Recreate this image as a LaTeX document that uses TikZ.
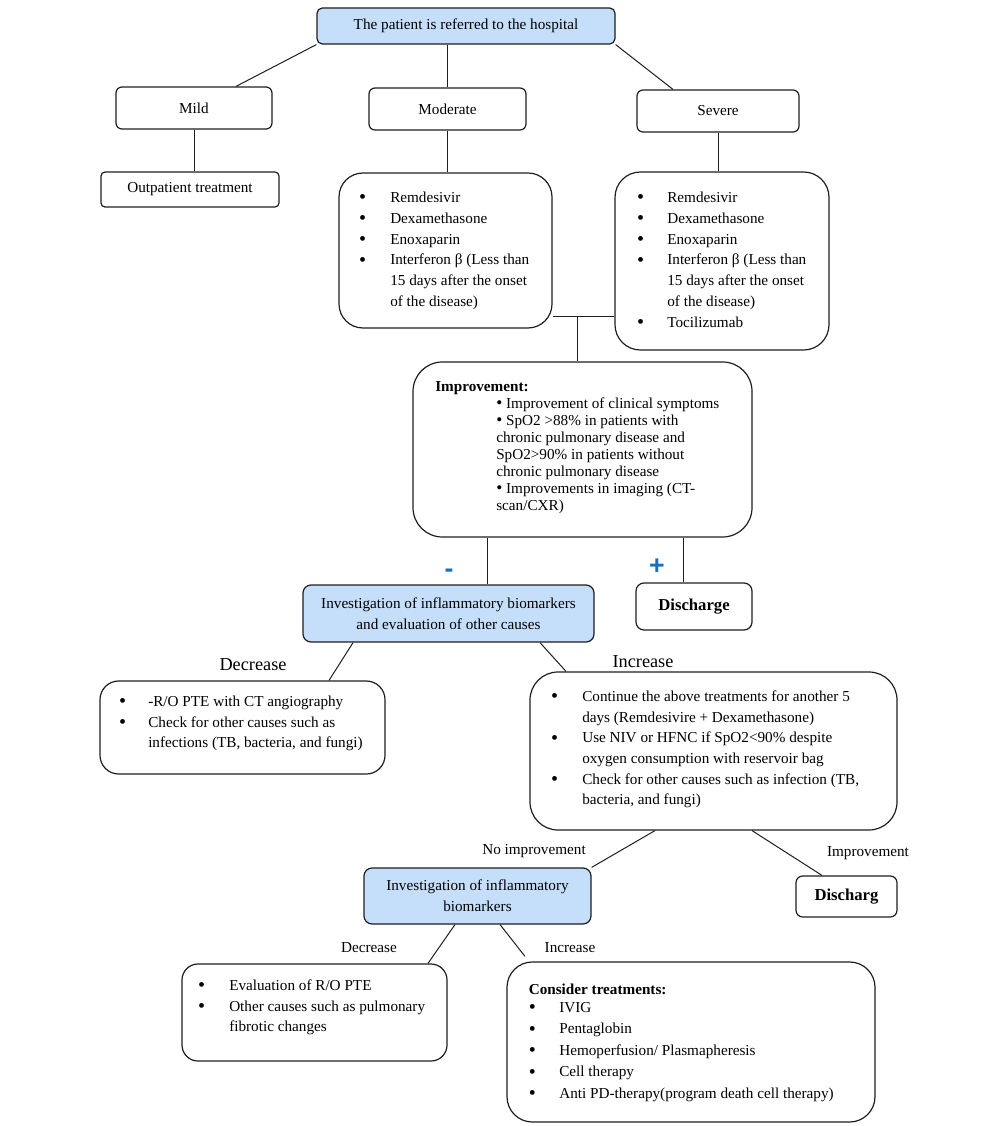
\documentclass[tikz,border=0pt]{standalone}
\usepackage{fontspec}
\setmainfont{Liberation Serif}
\setsansfont{Liberation Sans}
\usetikzlibrary{fit}
\definecolor{boxblue}{RGB}{197,223,250}
\definecolor{signblue}{RGB}{25,110,190}
\definecolor{edgec}{RGB}{30,30,30}
\newcommand\bdot{\raisebox{-0.9pt}{\fontsize{15}{15}\selectfont\textbullet}}
\newcommand\bul[1]{\makebox[#1][l]{\bdot}}
\newcommand\ibdot{\raisebox{-0.3pt}{\fontsize{13}{13}\selectfont\textbullet}}
\begin{document}
\begin{tikzpicture}[x=0.75pt,y=-0.75pt,
  font=\fontsize{11.4}{15.6}\selectfont,
  box/.style={draw=edgec, line width=0.9pt, inner sep=0pt, align=center},
  bluebox/.style={box, fill=boxblue},
  conn/.style={draw=edgec, line width=0.75pt},
  lbl/.style={inner sep=0pt},
  txt/.style={inner sep=0pt, anchor=base west},
  bigbold/.style={font=\bfseries\fontsize{12.5}{15}\selectfont},
  biglbl/.style={lbl, font=\fontsize{13.7}{16}\selectfont},
  sign/.style={lbl, text=signblue, font=\sffamily\bfseries\fontsize{20}{20}\selectfont}]
\useasboundingbox (0,0) rectangle (1000,1126);

% boxes with centred text
\node[bluebox, rounded corners=4pt, minimum width=223.5pt, minimum height=27pt] (top) at (466,26) {The patient is referred to the hospital};
\node[box, rounded corners=4.5pt, minimum width=117pt, minimum height=31.5pt] (mild) at (194,108) {Mild};
\node[box, rounded corners=4.5pt, minimum width=117.75pt, minimum height=31.5pt] (moderate) at (447.5,109) {Moderate};
\node[box, rounded corners=4.5pt, minimum width=121.5pt, minimum height=31.5pt] (severe) at (718,111) {Severe};
\node[box, rounded corners=3pt, minimum width=133.5pt, minimum height=26.25pt] (outp) at (190,189.5) {Outpatient treatment};
\node[bluebox, rounded corners=6pt, minimum width=218.25pt, minimum height=42.75pt] (inv1) at (448.5,613.5) {Investigation of inflammatory biomarkers\\and evaluation of other causes};
\node[box, rounded corners=6pt, minimum width=87pt, minimum height=35.25pt, bigbold] (disc1) at (694,606.5) {Discharge};
\node[bluebox, rounded corners=6pt, minimum width=170.25pt, minimum height=42pt] (inv2) at (477.5,896) {Investigation of inflammatory\\biomarkers};
\node[box, rounded corners=5pt, minimum width=75.75pt, minimum height=30.75pt, bigbold] (disc2) at (846.5,896.5) {Discharg};

% large list boxes
\node[box, rounded corners=18pt, fit={(339,173) (552,328)}] (modlist) {};
\node[box, rounded corners=19pt, fit={(615,172) (829,350)}] (sevlist) {};
\node[box, rounded corners=22pt, fit={(413,362) (752,537)}] (improv) {};
\node[box, rounded corners=14pt, fit={(100,681) (385,774)}] (dec1) {};
\node[box, rounded corners=21pt, fit={(530,672) (897,830)}] (inc1) {};
\node[box, rounded corners=12pt, fit={(182,964) (447,1061)}] (dec2) {};
\node[box, rounded corners=19pt, fit={(507,962) (875,1122)}] (inc2) {};

% box texts
\node[txt] (modtxt) at (358.8,202.5) {\begin{tabular}[t]{@{}l@{}l@{}}
\bul{23.4pt} & Remdesivir\\
\bdot & Dexamethasone\\
\bdot & Enoxaparin\\
\bdot & Interferon β (Less than\\
 & 15 days after the onset\\
 & of the disease)
\end{tabular}};
\node[txt] (sevtxt) at (636.8,202.5) {\begin{tabular}[t]{@{}l@{}l@{}}
\bul{22.7pt} & Remdesivir\\
\bdot & Dexamethasone\\
\bdot & Enoxaparin\\
\bdot & Interferon β (Less than\\
 & 15 days after the onset\\
 & of the disease)\\
\bdot & Tocilizumab
\end{tabular}};
\node[txt] (imptxt) at (435,391.5) {\fontsize{11.4}{12.75}\selectfont\begin{tabular}[t]{@{}l@{}l@{}}
\multicolumn{2}{@{}l@{}}{\textbf{Improvement:}}\\
\makebox[45.75pt][l]{} & \ibdot\ Improvement of clinical symptoms\\
 & \ibdot\ SpO2 >88\% in patients with\\
 & chronic pulmonary disease and\\
 & SpO2>90\% in patients without\\
 & chronic pulmonary disease\\
 & \ibdot\ Improvements in imaging (CT-\\
 & scan/CXR)
\end{tabular}};
\node[txt] (dec1txt) at (118.8,706.5) {\fontsize{11.4}{15.4}\selectfont\begin{tabular}[t]{@{}l@{}l@{}}
\bul{21.9pt} & -R/O PTE with CT angiography\\
\bdot & Check for other causes such as\\
 & infections (TB, bacteria, and fungi)
\end{tabular}};
\node[txt] (inc1txt) at (550.8,701.5) {\fontsize{11.4}{15.5}\selectfont\begin{tabular}[t]{@{}l@{}l@{}}
\bul{23.4pt} & Continue the above treatments for another 5\\
 & days (Remdesivire + Dexamethasone)\\
\bdot & Use NIV or HFNC if SpO2<90\% despite\\
 & oxygen consumption with reservoir bag\\
\bdot & Check for other causes such as infection (TB,\\
 & bacteria, and fungi)
\end{tabular}};
\node[txt] (dec2txt) at (197.8,990.5) {\fontsize{11.4}{15.4}\selectfont\begin{tabular}[t]{@{}l@{}l@{}}
\bul{23.4pt} & Evaluation of R/O PTE\\
\bdot & Other causes such as pulmonary\\
 & fibrotic changes
\end{tabular}};
\node[txt] (inc2txt) at (528.5,994.5) {\fontsize{11.4}{16.1}\selectfont\begin{tabular}[t]{@{}l@{}l@{}}
\multicolumn{2}{@{}l@{}}{\textbf{Consider treatments:}}\\[-2.6pt]
\bul{22.9pt} & IVIG\\
\bdot & Pentaglobin\\
\bdot & Hemoperfusion/ Plasmapheresis\\
\bdot & Cell therapy\\
\bdot & Anti PD-therapy(program death cell therapy)
\end{tabular}};

% labels
\node[sign] (minus) at (449,573) {-};
\node[sign] (plus) at (657,567) {+};
\node[biglbl] (ldec1) at (253,665) {Decrease};
\node[biglbl] (linc1) at (643,662) {Increase};
\node[lbl] (lnoimp) at (534,851) {No improvement};
\node[lbl] (limp) at (868,853) {Improvement};
\node[lbl] (ldec2) at (369,948) {Decrease};
\node[lbl] (linc2) at (570,948) {Increase};

% connectors
\coordinate (j1) at (577,317);
\coordinate (i1) at ([xshift=29.6pt]inv1.north);
\coordinate (d1) at ([xshift=-8.25pt]disc1.north);
\coordinate (e2) at ([xshift=-124.5pt,yshift=3.75pt]inc2.north);
\draw[conn] (top.south west) -- ([xshift=31.5pt]mild.north);
\draw[conn] (top.south -| moderate.north) -- (moderate.north);
\draw[conn] (top.south east) -- ([xshift=-33.75pt]severe.north);
\draw[conn] (mild.south) -- (mild.south |- outp.north);
\draw[conn] (moderate.south) -- (moderate.south |- modlist.north);
\draw[conn] (severe.south) -- (severe.south |- sevlist.north);
\draw[conn] (modlist.east |- j1) -- (sevlist.west |- j1);
\draw[conn] (j1) -- (j1 |- improv.north);
\draw[conn] (i1) -- (i1 |- improv.south);
\draw[conn] (d1) -- (d1 |- improv.south);
\draw[conn] ([xshift=-71.6pt]inv1.south) -- ([xshift=64.9pt]dec1.north);
\draw[conn] ([xshift=68.6pt]inv1.south) -- ([xshift=-110.6pt]inc1.north);
\draw[conn] ([xshift=-43.9pt]inc1.south) -- (inv2.north east);
\draw[conn] ([xshift=28.9pt]inc1.south) -- ([xshift=-18.4pt]disc2.north);
\draw[conn] ([xshift=-16.9pt]inv2.south) -- ([xshift=85.1pt]dec2.north);
\draw[conn] ([xshift=16.9pt]inv2.south) -- (e2);
\end{tikzpicture}
\end{document}
